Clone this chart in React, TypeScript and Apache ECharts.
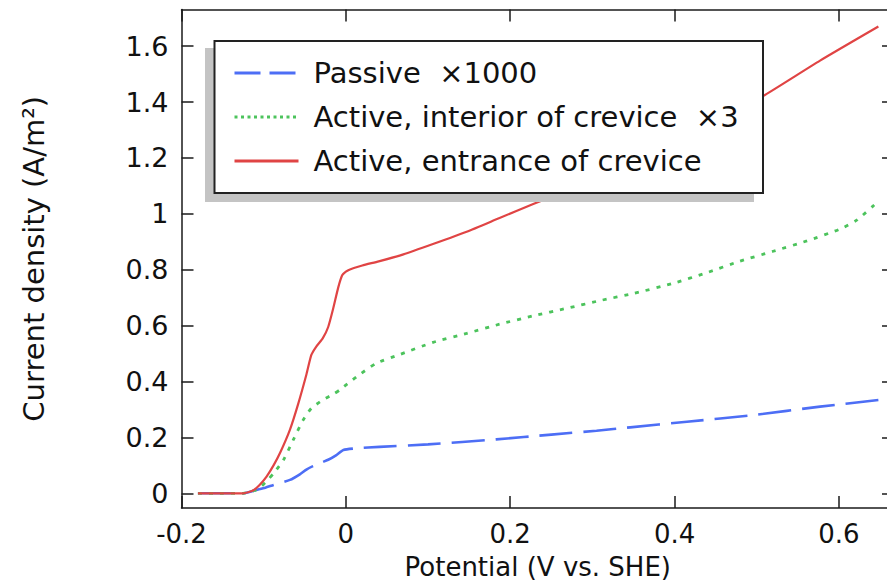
import React, { useEffect, useRef } from "react";
import * as echarts from "echarts";

const xTicks = [-0.2, 0, 0.2, 0.4, 0.6];
const yTicks = [0, 0.2, 0.4, 0.6, 0.8, 1, 1.2, 1.4, 1.6];
const seriesNames = [
  "Passive  ×1000",
  "Active, interior of crevice  ×3",
  "Active, entrance of crevice",
];

const passive: [number, number][] = [
  [-0.18, 0], [-0.15, 0], [-0.125, 0], [-0.109, 0.012], [-0.098, 0.02], [-0.088, 0.03],
  [-0.068, 0.048], [-0.056, 0.068], [-0.048, 0.085], [-0.04, 0.097], [-0.028, 0.112],
  [-0.0215, 0.12], [-0.012, 0.136], [-0.003, 0.155], [0.013, 0.161], [0.041, 0.166],
  [0.1, 0.175], [0.183, 0.193], [0.25, 0.21], [0.305, 0.224], [0.346, 0.236],
  [0.415, 0.256], [0.496, 0.28], [0.577, 0.31], [0.648, 0.334],
];

const interior: [number, number][] = [
  [-0.18, 0], [-0.15, 0], [-0.125, 0], [-0.115, 0.006], [-0.105, 0.019], [-0.096, 0.045],
  [-0.088, 0.071], [-0.076, 0.119], [-0.064, 0.191], [-0.052, 0.262], [-0.042, 0.304],
  [-0.028, 0.334], [-0.015, 0.355], [-0.0073, 0.37], [0.013, 0.417], [0.037, 0.465],
  [0.066, 0.497], [0.106, 0.54], [0.147, 0.572], [0.187, 0.605], [0.228, 0.635],
  [0.269, 0.662], [0.31, 0.69], [0.35, 0.715], [0.398, 0.751], [0.439, 0.789],
  [0.479, 0.83], [0.52, 0.866], [0.561, 0.903], [0.601, 0.945], [0.622, 0.978],
  [0.646, 1.04],
];

const entrance: [number, number][] = [
  [-0.18, 0], [-0.15, 0], [-0.125, 0], [-0.113, 0.01], [-0.105, 0.03], [-0.0965, 0.06],
  [-0.088, 0.1], [-0.08, 0.145], [-0.068, 0.228], [-0.058, 0.32], [-0.048, 0.425],
  [-0.042, 0.495], [-0.036, 0.525], [-0.028, 0.555], [-0.0215, 0.595], [-0.0155, 0.66],
  [-0.0094, 0.735], [-0.0045, 0.78], [0, 0.793], [0.005, 0.801], [0.02, 0.815],
  [0.04, 0.83], [0.07, 0.855], [0.106, 0.892], [0.147, 0.936], [0.187, 0.985],
  [0.228, 1.035], [0.256, 1.067], [0.3, 1.12], [0.35, 1.185], [0.4, 1.255],
  [0.45, 1.33], [0.507, 1.42], [0.577, 1.548], [0.648, 1.67],
];

const FONT = "DejaVu Sans";
const AXIS_COLOR = "#1a1a1a";
const BLUE = "#4d6ef5";
const GREEN = "#4cc35c";
const RED = "#e04444";

const fmt = (v: number) => String(Math.round(v * 10) / 10);

export default function App() {
  const ref = useRef<HTMLDivElement>(null);
  useEffect(() => {
    const chart = echarts.init(ref.current!, null, { renderer: "svg" });
    const axisLine = { show: true, onZero: false, lineStyle: { color: AXIS_COLOR, width: 1.5 } };
    const tickStyle = { color: AXIS_COLOR, width: 1.5 };
    chart.setOption({
      animation: false,
      backgroundColor: "#ffffff",
      grid: {
        left: 181.5,
        top: 9.5,
        right: -7,
        bottom: 74,
        containLabel: false,
        outerBoundsMode: "none",
      },
      xAxis: [
        {
          type: "value",
          min: -0.2,
          max: 0.667,
          position: "bottom",
          axisLine,
          axisTick: { show: true, inside: true, length: 12, customValues: xTicks, lineStyle: tickStyle },
          axisLabel: {
            customValues: xTicks,
            formatter: fmt,
            fontSize: 26,
            fontFamily: FONT,
            color: "#111",
            margin: 12.5,
            lineHeight: 26,
          },
          splitLine: { show: false },
          name: "Potential (V vs. SHE)",
          nameLocation: "middle",
          nameGap: 46.5,
          nameMoveOverlap: false,
          nameTextStyle: { fontSize: 26, fontFamily: FONT, color: "#111", lineHeight: 24 },
        },
        {
          type: "value",
          min: -0.2,
          max: 0.667,
          position: "top",
          axisLine,
          axisTick: { show: true, inside: true, length: 12, customValues: xTicks, lineStyle: tickStyle },
          axisLabel: { show: false },
          splitLine: { show: false },
        },
      ],
      yAxis: [
        {
          type: "value",
          min: -0.0526,
          max: 1.731,
          position: "left",
          axisLine,
          axisTick: { show: true, inside: true, length: 12, customValues: yTicks, lineStyle: tickStyle },
          axisLabel: {
            customValues: yTicks,
            formatter: fmt,
            fontSize: 27,
            fontFamily: FONT,
            color: "#111",
            margin: 13,
          },
          splitLine: { show: false },
          name: "Current density (A/m²)",
          nameLocation: "middle",
          nameGap: 133,
          nameMoveOverlap: false,
          nameTextStyle: { fontSize: 29, fontFamily: FONT, color: "#111" },
        },
        {
          type: "value",
          min: -0.0526,
          max: 1.731,
          position: "right",
          axisLine,
          axisTick: { show: true, inside: true, length: 12, customValues: yTicks, lineStyle: tickStyle },
          axisLabel: { show: false },
          splitLine: { show: false },
        },
      ],
      legend: {
        z: 120,
        orient: "vertical",
        left: 233,
        top: 58,
        padding: 0,
        itemWidth: 64,
        itemHeight: 20,
        itemGap: 14,
        selectedMode: false,
        itemStyle: { opacity: 0 },
        textStyle: {
          fontSize: 29,
          fontFamily: FONT,
          color: "#111",
          lineHeight: 30,
          padding: [0, 0, 0, 10],
        },
        data: [
          { name: seriesNames[0], lineStyle: { color: BLUE, width: 2.8, type: [26, 9] } },
          { name: seriesNames[1], lineStyle: { color: GREEN, width: 3, type: [3, 3.5] } },
          { name: seriesNames[2], lineStyle: { color: RED, width: 2.8, type: "solid" } },
        ],
      },
      graphic: [
        {
          type: "rect",
          z: 100,
          shape: { x: 205, y: 48, width: 549, height: 154 },
          style: { fill: "#c4c4c4" },
        },
        {
          type: "rect",
          z: 101,
          shape: { x: 214.5, y: 41, width: 548.5, height: 152 },
          style: { fill: "#ffffff", stroke: "#222", lineWidth: 2 },
        },
      ],
      series: [
        {
          name: seriesNames[0],
          type: "line",
          data: passive,
          symbol: "none",
          smooth: 0.2,
          lineStyle: { color: BLUE, width: 2.6, type: [33, 11] },
          itemStyle: { color: BLUE },
        },
        {
          name: seriesNames[1],
          type: "line",
          data: interior,
          symbol: "none",
          smooth: 0.2,
          lineStyle: { color: GREEN, width: 2.8, type: [4, 7] },
          itemStyle: { color: GREEN },
        },
        {
          name: seriesNames[2],
          type: "line",
          data: entrance,
          symbol: "none",
          smooth: 0.2,
          lineStyle: { color: RED, width: 2.2, type: "solid" },
          itemStyle: { color: RED },
        },
      ],
    });
    return () => chart.dispose();
  }, []);
  return (
    <div
      ref={ref}
      style={{ position: "absolute", left: 0, top: 0, width: 887, height: 582 }}
    />
  );
}
